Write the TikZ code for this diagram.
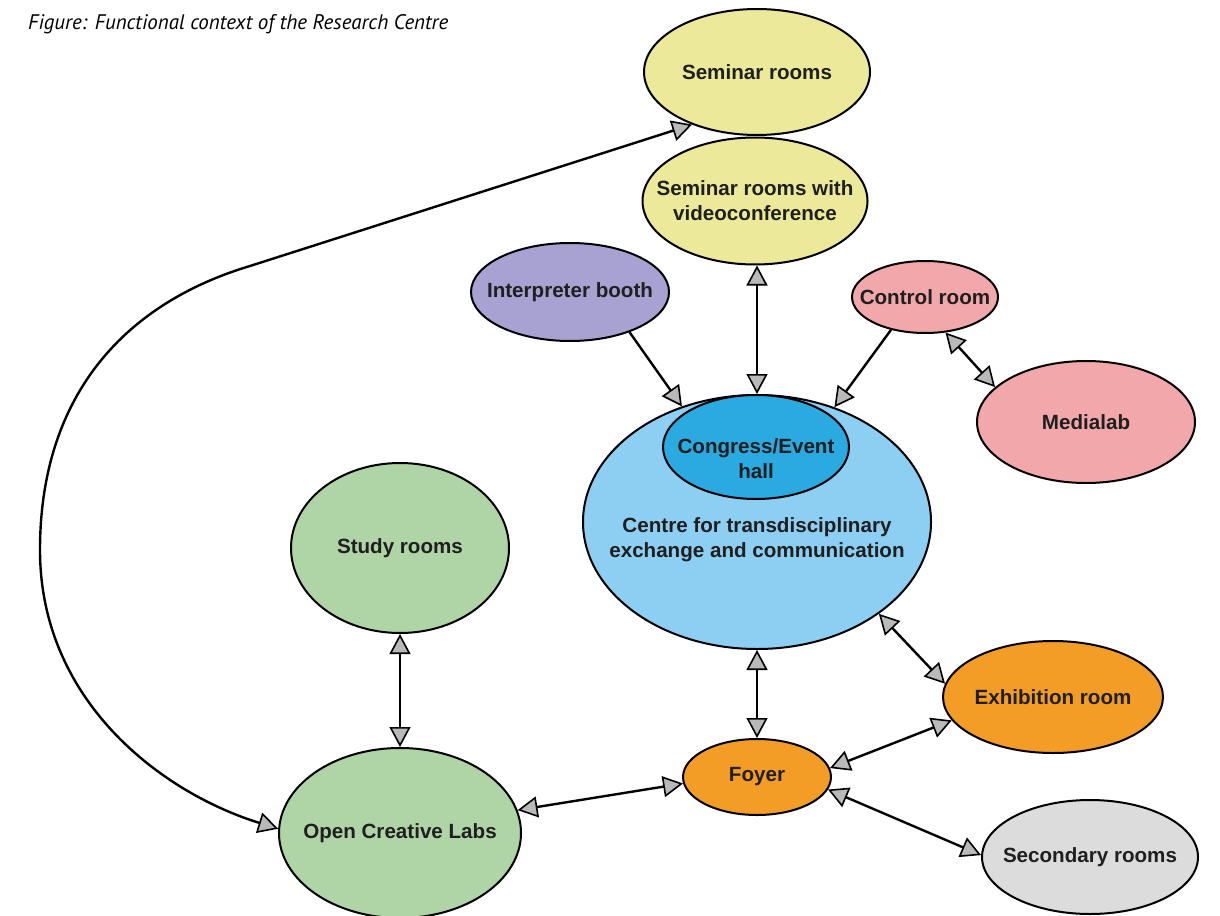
\documentclass[tikz,border=0pt]{standalone}
\usepackage{fontspec}
\setmainfont{Liberation Sans}
\newfontfamily\capfont{PT Sans}
\usepackage{graphicx}
\usepackage{xcolor}
\usetikzlibrary{arrows.meta, shapes.geometric}

\definecolor{semyellow}{HTML}{ECE99B}
\definecolor{booth}{HTML}{A7A2D2}
\definecolor{media}{HTML}{F2A7AB}
\definecolor{centre}{HTML}{8DCFF2}
\definecolor{hallblue}{HTML}{2BAAE2}
\definecolor{labgreen}{HTML}{AFD4A6}
\definecolor{expo}{HTML}{F39C26}
\definecolor{spare}{HTML}{DCDCDC}

\begin{document}
\begin{tikzpicture}[
  x=1pt, y=-1pt,
  >={Triangle[length=20pt, width=21pt, fill=gray!55, line width=1.6pt]},
  room/.style={ellipse, draw, line width=2pt, inner sep=0pt},
  txt/.style={font=\fontsize{20.6}{25}\selectfont\bfseries, text=black!88, align=center},
  link/.style={<->, line width=2.4pt},
  flow/.style={->, line width=2.4pt},
]
\useasboundingbox (0,0) rectangle (1220,915);

%% Caption
\node[anchor=base west, inner sep=0pt, text=black] (cap) at (28,30)
  {\resizebox{420pt}{15pt}{\capfont\itshape Figure: Functional context of the Research Centre}};

%% Rooms
\node[room, fill=semyellow, minimum width=226, minimum height=126,
  label={[txt]center:Seminar rooms}] (semA) at (757,72) {};
\node[room, fill=semyellow, minimum width=225, minimum height=127,
  label={[txt]center:{Seminar rooms with\\videoconference}}] (semB) at (755,201) {};
\node[room, fill=booth, minimum width=198, minimum height=98,
  label={[txt]center:Interpreter booth}] (ipb) at (570,292) {};
\node[room, fill=media, minimum width=146, minimum height=72,
  label={[txt]center:Control room}] (ctl) at (925,297) {};
\node[room, fill=media, minimum width=218, minimum height=122,
  label={[txt]center:Medialab}] (mlab) at (1086,422) {};

\node[room, fill=centre, minimum width=348, minimum height=254,
  label={[txt, yshift=-18pt]center:{Centre for transdisciplinary\\exchange and communication}}] (ctr) at (757,522) {};
\node[room, fill=hallblue, minimum width=186, minimum height=104,
  label={[txt, yshift=-12pt]center:{Congress/Event\\hall}}] (hall) at (756,447) {};

\node[room, fill=labgreen, minimum width=218, minimum height=170,
  label={[txt]center:Study rooms}] (study) at (400,548) {};
\node[room, fill=labgreen, minimum width=242, minimum height=170,
  label={[txt]center:Open Creative Labs}] (ocl) at (400,833) {};

\node[room, fill=expo, minimum width=148, minimum height=76,
  label={[txt]center:Foyer}] (foyer) at (757,777) {};
\node[room, fill=expo, minimum width=220, minimum height=112,
  label={[txt]center:Exhibition room}] (exh) at (1053,697) {};
\node[room, fill=spare, minimum width=216, minimum height=114,
  label={[txt]center:Secondary rooms}] (sec) at (1090,857) {};

%% Long connection
\coordinate (bendA) at (250,266);
\coordinate (bendB) at (40,550);
\draw[link] (semA.219) -- (bendA)
  .. controls (120,305) and (40,400) .. (bendB)
  .. controls (40,700) and (160,792) .. (ocl.178);

%% Connections to the centre
\draw[link] (ctr.north |- semB.south) -- (ctr.north);
\draw[flow] (ipb.-34) -- (ctr.123);
\draw[flow] (ctl.224) -- (ctr.56);
\draw[link] (ctl.-60) -- (mlab.159);
\draw[link] (ctr.-37) -- (exh.173);
\draw[link] (ctr.south) -- (foyer.north);

%% Ground floor
\draw[link] (study.south) -- (ocl.north);
\draw[link] (ocl.11) -- (foyer.185);
\draw[link] (foyer.7) -- (exh.193);
\draw[link] (foyer.-10) -- (sec.179);

\end{tikzpicture}
\end{document}
